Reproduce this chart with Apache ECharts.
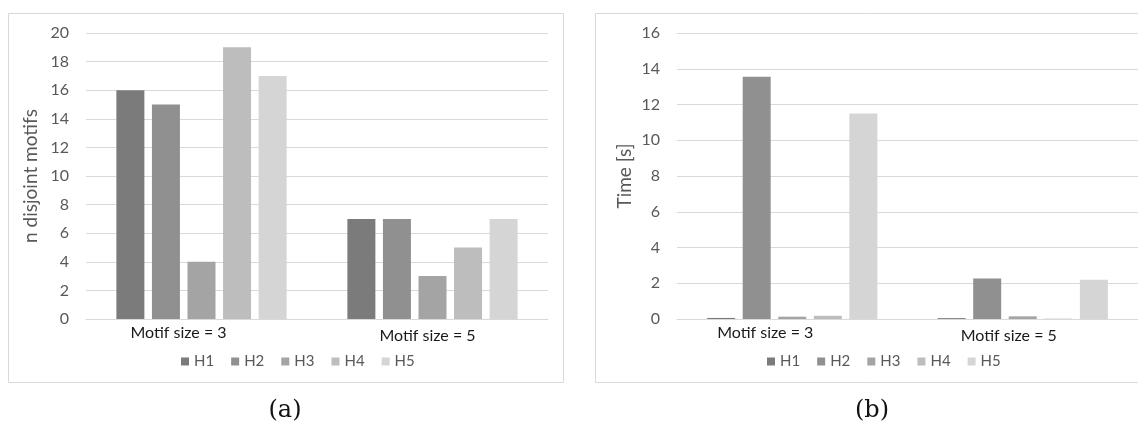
<!DOCTYPE html>
<html>
<head>
<meta charset="utf-8">
<script src="https://cdn.jsdelivr.net/npm/echarts@6/dist/echarts.min.js"></script>
<style>
  html, body { margin: 0; padding: 0; background: #fff; }
  #chart { width: 1138px; height: 427px; }
</style>
</head>
<body>
<div id="chart"></div>
<script>
// Categories and series
const categories = ['Motif size = 3', 'Motif size = 5'];
const seriesNames = ['H1', 'H2', 'H3', 'H4', 'H5'];

// (a) number of disjoint motifs found per heuristic
const motifsH1 = [16, 7];
const motifsH2 = [15, 7];
const motifsH3 = [4, 3];
const motifsH4 = [19, 5];
const motifsH5 = [17, 7];

// (b) running time in seconds per heuristic
const timeH1 = [0.06, 0.05];
const timeH2 = [13.55, 2.26];
const timeH3 = [0.13, 0.15];
const timeH4 = [0.18, 0.02];
const timeH5 = [11.5, 2.2];

const colors = ['#7b7b7b', '#909090', '#a4a4a4', '#bdbdbd', '#d5d5d5'];
const FONT = 'Lato, "Open Sans", sans-serif';

// per-label horizontal shift of the category captions (pixels to the left)
const labelShiftA = [23, 5];
const labelShiftB = [27, 14];

function catAxis(gridIndex, shifts) {
  return {
    type: 'category',
    gridIndex: gridIndex,
    data: categories,
    axisTick: { show: false },
    axisLine: { lineStyle: { color: '#d9d9d9', width: 1 } },
    axisLabel: {
      margin: 6,
      interval: 0,
      formatter: function (v, i) { return '{s' + i + '|' + v + '}'; },
      rich: {
        s0: { fontFamily: FONT, fontSize: 16, color: '#1a1a1a', padding: [0, shifts[0] * 2, 0, 0] },
        s1: { fontFamily: FONT, fontSize: 16, color: '#1a1a1a', padding: [3, shifts[1] * 2, 0, 0] }
      }
    }
  };
}

function valAxis(gridIndex, max, name, gap) {
  return {
    type: 'value',
    gridIndex: gridIndex,
    min: 0,
    max: max,
    interval: 2,
    name: name,
    nameLocation: 'middle',
    nameGap: gap,
    nameTextStyle: { fontFamily: FONT, fontSize: 19, color: '#595959' },
    axisLine: { show: false },
    axisTick: { show: false },
    axisLabel: { margin: 17, fontFamily: FONT, fontSize: 16, color: '#595959' },
    splitLine: { lineStyle: { color: '#d9d9d9', width: 1 } }
  };
}

const motifData = [motifsH1, motifsH2, motifsH3, motifsH4, motifsH5];
const timeData = [timeH1, timeH2, timeH3, timeH4, timeH5];

const series = [];
seriesNames.forEach(function (n, i) {
  series.push({
    name: n, type: 'bar', xAxisIndex: 0, yAxisIndex: 0,
    data: motifData[i], barWidth: 28, barGap: '27%',
    itemStyle: { color: colors[i] }, silent: true
  });
});
seriesNames.forEach(function (n, i) {
  series.push({
    name: n, type: 'bar', xAxisIndex: 1, yAxisIndex: 1,
    data: timeData[i], barWidth: 28, barGap: '27%',
    itemStyle: { color: colors[i] }, silent: true
  });
});

function legend(left) {
  return {
    data: seriesNames,
    left: left,
    top: 349,
    icon: 'rect',
    itemWidth: 8,
    itemHeight: 8,
    itemGap: 17,
    selectedMode: false,
    textStyle: { fontFamily: FONT, fontSize: 15, color: '#595959' }
  };
}

const chart = echarts.init(document.getElementById('chart'), null, { renderer: 'canvas' });
chart.setOption({
  animation: false,
  backgroundColor: '#ffffff',
  color: colors,
  grid: [
    { left: 86, top: 33, width: 462, bottom: 108 },
    { left: 677, top: 33, width: 467, bottom: 108 }
  ],
  xAxis: [catAxis(0, labelShiftA), catAxis(1, labelShiftB)],
  yAxis: [valAxis(0, 20, 'n disjoint motifs', 46), valAxis(1, 16, 'Time [s]', 43)],
  legend: [legend(176), legend(762)],
  series: series,
  graphic: [
    { type: 'rect', shape: { x: 8.5, y: 13.5, width: 555, height: 369 },
      style: { fill: 'none', stroke: '#d9d9d9', lineWidth: 1 }, silent: true },
    { type: 'rect', shape: { x: 595.5, y: 13.5, width: 560, height: 369 },
      style: { fill: 'none', stroke: '#d9d9d9', lineWidth: 1 }, silent: true },
    { type: 'text', x: 285, y: 411,
      style: { text: '(a)', fontFamily: '"DejaVu Serif", serif', fontSize: 24, fill: '#111',
               textAlign: 'center', textVerticalAlign: 'middle' }, silent: true },
    { type: 'text', x: 872, y: 411,
      style: { text: '(b)', fontFamily: '"DejaVu Serif", serif', fontSize: 24, fill: '#111',
               textAlign: 'center', textVerticalAlign: 'middle' }, silent: true }
  ]
});
</script>
</body>
</html>
